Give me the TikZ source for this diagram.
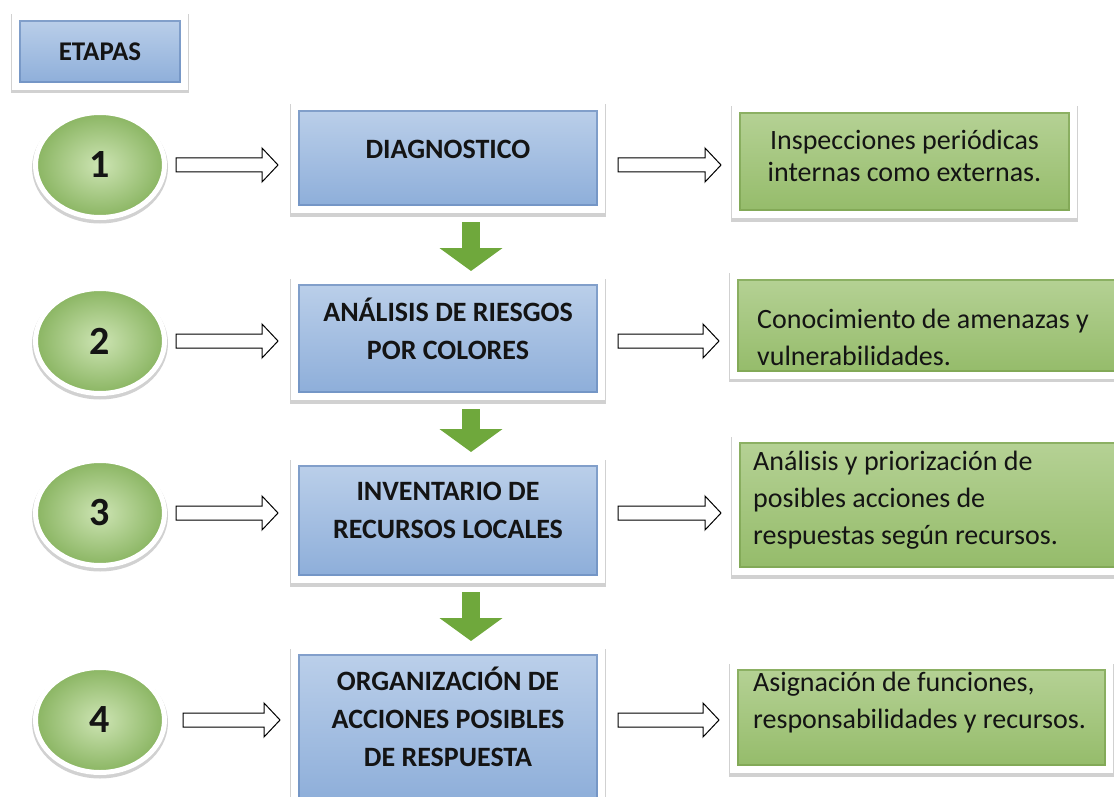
\documentclass[tikz,border=0pt]{standalone}
\usepackage{fontspec}
\setmainfont{Carlito}
\usetikzlibrary{arrows.meta,calc,shapes.geometric,shadows}
\definecolor{bluetop}{HTML}{BCD0EA}
\definecolor{bluebot}{HTML}{8CADD9}
\definecolor{bluedark}{HTML}{6A8CBE}
\definecolor{greentop}{HTML}{B6D296}
\definecolor{greenbot}{HTML}{94BB69}
\definecolor{greendark}{HTML}{7BA24F}
\definecolor{ballin}{HTML}{CDE4B3}
\definecolor{ballout}{HTML}{8AB562}
\definecolor{arrowgreen}{HTML}{6FA83C}
\definecolor{ink}{HTML}{141414}
\begin{document}
\begin{tikzpicture}[x=1pt,y=-1pt,
    hollow/.style 2 args={to path={let \p1=(\tikztostart), \p2=(\tikztotarget) in
      (\x1+#1,\y1+7pt) -- (\x2-#2-16pt,\y1+7pt) -- (\x2-#2-16pt,\y1+17pt) -- (\x2-#2,\y1)
      -- (\x2-#2-16pt,\y1-17pt) -- (\x2-#2-16pt,\y1-7pt) -- (\x1+#1,\y1-7pt) -- cycle}},
    bevel/.style={path picture={\draw[#1,line width=11pt,opacity=0.7] (path picture bounding box.south west) rectangle (path picture bounding box.north east);}}]
      \tikzstyle{frame}=[draw=white,line width=7pt,inner sep=0pt,drop shadow={opacity=0.18,shadow xshift=0pt,shadow yshift=-2.5pt,draw=black,line width=9pt}]
      \tikzstyle{etapa}=[frame,top color=bluetop,bottom color=bluebot,bevel=bluedark,minimum width=307pt]
      \tikzstyle{accion}=[frame,top color=greentop,bottom color=greenbot,bevel=greendark]
      \tikzstyle{numero}=[ellipse,draw=white,line width=5pt,inner color=ballin,outer color=ballout,minimum width=129pt,minimum height=105pt,text=ink,font=\bfseries\fontsize{40}{40}\selectfont,drop shadow={opacity=0.18,shadow xshift=0pt,shadow yshift=-2.5pt,draw=black,line width=7pt}]
      \tikzstyle{titulo}=[align=center,text=ink,font=\bfseries\fontsize{28}{38}\selectfont]
      \tikzstyle{textoc}=[align=center,text=ink,font=\fontsize{28}{32}\selectfont]
      \tikzstyle{texto}=[align=left,anchor=west,inner sep=0pt,text=ink,font=\fontsize{28}{37}\selectfont]
      \tikzstyle{edge}=[draw=black,fill=white,line width=1pt]
      \tikzstyle{down}=[draw=arrowgreen,line width=18pt,-{Triangle[width=62pt,length=23pt]},shorten <=9pt,shorten >=6pt]
      \useasboundingbox (0,0) rectangle (1114,797);
      \clip (0,0) rectangle (1114,797);
      \node[etapa,minimum width=169pt,minimum height=70pt] (et) at (100,51.5) {};
      \node[etapa,minimum height=103pt] (d1) at (448,158) {};
      \node[etapa,minimum height=116pt] (d2) at (448,338.5) {};
      \node[etapa,minimum height=118pt] (d3) at (448,520.5) {};
      \node[etapa,minimum height=156pt] (d4) at (448,728.5) {};
      \node[accion,minimum width=338pt,minimum height=106pt] (g1) at (904.5,161.5) {};
      \node[accion,minimum width=393pt,minimum height=100pt] (g2) at (930,325) {};
      \node[accion,minimum width=391pt,minimum height=133pt] (g3) at (931,505) {};
      \node[accion,minimum width=376pt,minimum height=104pt] (g4) at (921.5,717.5) {};
      \node[titulo,font=\bfseries\fontsize{27}{30}\selectfont] (t0) at (et.center) {ETAPAS};
      \node[titulo] (t1) at ([yshift=9pt]d1.center) {DIAGNOSTICO};
      \node[titulo] (t2) at ([yshift=10pt]d2.center) {ANÁLISIS DE RIESGOS\\POR COLORES};
      \node[titulo] (t3) at ([yshift=10.5pt]d3.center) {INVENTARIO DE\\RECURSOS LOCALES};
      \node[titulo] (t4) at ([yshift=11.5pt]d4.center) {ORGANIZACIÓN DE\\ACCIONES POSIBLES\\DE RESPUESTA};
      \node[textoc] (e1) at ([yshift=5.5pt]g1.center) {Inspecciones periódicas\\internas como externas.};
      \node[texto] (e2) at ([xshift=27pt,yshift=-12pt]g2.west) {Conocimiento de amenazas y\\vulnerabilidades.};
      \node[texto] (e3) at ([xshift=21pt,yshift=5pt]g3.west) {Análisis y priorización de\\posibles acciones de\\respuestas según recursos.};
      \node[texto] (e4) at ([xshift=23pt,yshift=14.5pt]g4.west) {Asignación de funciones,\\responsabilidades y recursos.};
      \node[numero] (c1) at (100,165) {1};
      \node[numero] (c2) at (100,341) {2};
      \node[numero] (c3) at (100,513) {3};
      \node[numero] (c4) at (100,720) {4};
      \path[edge,hollow={9pt}{13pt}] (c1.east) to (d1.west);
      \path[edge,hollow={9pt}{13pt}] (c2.east) to (d2.west);
      \path[edge,hollow={9pt}{13pt}] (c3.east) to (d3.west);
      \path[edge,hollow={16pt}{11pt}] (c4.east) to (d4.west);
      \path[edge,hollow={13pt}{11pt}] (d1.east |- c1.east) to (g1.west);
      \path[edge,hollow={13pt}{11pt}] (d2.east |- c2.east) to (g2.west);
      \path[edge,hollow={13pt}{11pt}] (d3.east |- c3.east) to (g3.west);
      \path[edge,hollow={13pt}{11pt}] (d4.east |- c4.east) to (g4.west);
      \path[down] ([xshift=23pt]d1.south) -- ([xshift=23pt]d2.north);
      \path[down] ([xshift=23pt]d2.south) -- ([xshift=23pt]d3.north);
      \path[down] ([xshift=23pt]d3.south) -- ([xshift=23pt]d4.north);
    \end{tikzpicture}
\end{document}
